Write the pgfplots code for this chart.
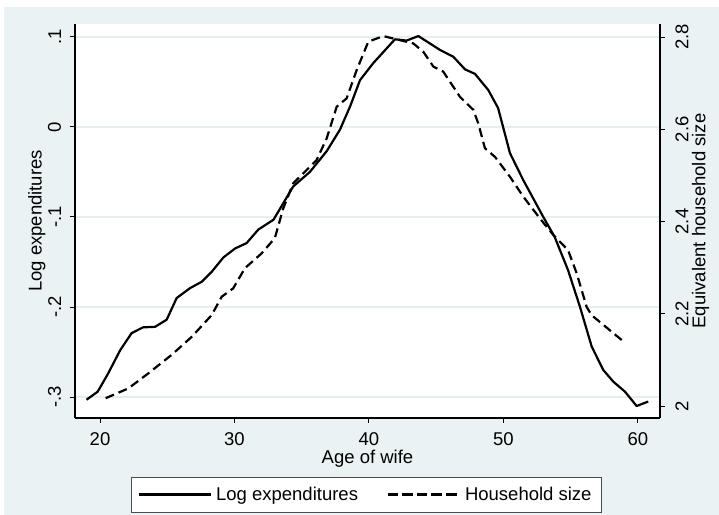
\documentclass[border=0pt]{standalone}
\usepackage{pgfplots}
\pgfplotsset{compat=1.18}
\usepackage{fontspec}
\setmainfont{Liberation Sans}
\definecolor{stbg}{RGB}{234,242,243}
\definecolor{stgrid}{RGB}{230,238,240}

\pgfplotstableread{
x y
19.00 -0.303
19.83 -0.294
20.60 -0.274
21.50 -0.248
22.35 -0.229
23.20 -0.2226
24.10 -0.222
24.96 -0.214
25.70 -0.190
26.70 -0.179
27.56 -0.172
28.30 -0.161
29.17 -0.145
30.04 -0.135
30.90 -0.129
31.77 -0.114
32.90 -0.103
34.37 -0.066
35.60 -0.050
36.85 -0.027
37.84 -0.003
38.60 0.023
39.33 0.052
40.32 0.071
41.93 0.0974
42.80 0.096
43.67 0.101
45.28 0.0856
46.27 0.078
47.14 0.064
47.88 0.059
48.87 0.041
49.60 0.021
50.48 -0.029
51.47 -0.059
52.96 -0.100
53.80 -0.122
54.80 -0.159
55.69 -0.200
56.56 -0.244
57.42 -0.270
58.17 -0.283
59.03 -0.294
59.90 -0.310
60.76 -0.305
}\logexp

\pgfplotstableread{
x y
20.42 2.017
22.10 2.038
23.60 2.071
25.33 2.111
26.82 2.150
28.30 2.197
29.05 2.237
29.90 2.255
30.78 2.299
32.02 2.331
33.00 2.364
33.63 2.429
34.37 2.483
36.10 2.533
36.85 2.580
37.60 2.649
38.34 2.667
39.08 2.728
39.95 2.790
41.06 2.802
42.06 2.795
43.30 2.786
44.04 2.768
44.78 2.736
45.52 2.725
46.77 2.670
47.76 2.642
48.12 2.613
48.62 2.559
49.37 2.540
50.48 2.497
51.47 2.454
52.70 2.407
53.70 2.371
54.80 2.338
55.44 2.288
56.18 2.215
56.55 2.197
57.42 2.176
58.79 2.143
}\hhsize

\pgfplotsset{
  common/.style={
    at={(37.5pt,48.5pt)}, anchor=south west,
    scale only axis, width=292.5pt, height=197pt,
    xmin=18.141, xmax=61.636,
    tick align=outside, major tick length=2.5pt,
    tick style={black, line width=0.5pt},
    axis line style={black, line width=0.6pt, -},
    /pgf/number format/assume math mode=true,
    font=\fontsize{9.25}{11}\selectfont,
    clip=false,
  }
}

\begin{document}
\fontsize{9.25}{11}\selectfont
\begin{tikzpicture}
\path[use as bounding box] (0,0) rectangle (359.5pt,257.5pt);
\fill[white] (0,0) rectangle (359.5pt,257.5pt);
\fill[stbg] (2pt,0) rectangle (359.5pt,254pt);

\begin{axis}[common,
  axis background/.style={fill=white},
  ymin=-0.3233, ymax=0.1144,
  axis x line*=bottom, axis y line*=left,
  xtick={20,30,40,50,60},
  ytick={-0.3,-0.2,-0.1,0,0.1},
  yticklabels={-.3,-.2,-.1,0,.1},
  ymajorgrids, grid style={stgrid, line width=0.8pt},
  xticklabel style={anchor=north, inner sep=0pt},
  xticklabel shift=4.8pt,
  yticklabel style={rotate=90, anchor=south, inner sep=0pt},
  yticklabel shift=4.25pt,
  xlabel={Age of wife},
  xlabel style={at={([yshift=-22.8pt]axis description cs:0.5,0)}, anchor=base, inner sep=0pt},
  ylabel={Log expenditures},
  ylabel style={at={([xshift=-16.75pt]axis description cs:0,0.5)}, anchor=base, inner sep=0pt},
]
\addplot[black, line width=1.1pt, line join=round] table[x=x,y=y] {\logexp};
\end{axis}

\begin{axis}[common,
  ymin=1.974, ymax=2.8282,
  axis x line=none, axis y line*=right,
  ytick={2,2.2,2.4,2.6,2.8},
  yticklabels={2,2.2,2.4,2.6,2.8},
  yticklabel style={rotate=90, anchor=north, inner sep=0pt},
  yticklabel shift=5pt,
  ylabel={Equivalent household size},
  ylabel style={at={([xshift=22.75pt]axis description cs:1,0.5)}, anchor=base, inner sep=0pt},
  legend style={at={(axis description cs:0.498,-0.1954)}, anchor=center,
    draw=black!70, line width=0.5pt, fill=white, legend columns=2,
    inner xsep=3pt, inner ysep=2.5pt,
    /tikz/every even column/.append style={column sep=12pt},
    font=\fontsize{9.25}{11}\selectfont},
  legend image code/.code={\draw[#1, line width=1.5pt] (0pt,0pt) -- (36pt,0pt);},
]
\addlegendimage{black, solid}
\addlegendentry{Log expenditures}
\addplot[black, line width=1.1pt, dash pattern=on 4.5pt off 2.5pt,
  legend image post style={dash pattern=on 5.3pt off 2pt}] table[x=x,y=y] {\hhsize};
\addlegendentry{Household size}
\end{axis}
\end{tikzpicture}
\end{document}
